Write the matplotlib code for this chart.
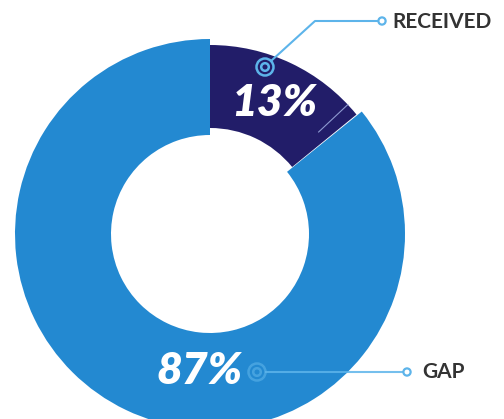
import numpy as np
import matplotlib
matplotlib.use("Agg")
import matplotlib.pyplot as plt
from matplotlib.patches import Wedge, Circle

labels = ["RECEIVED", "GAP"]
shares = [13, 87]          # percent, as printed on the chart
colors = ["#221d69", "#2389d1"]
line_color = "#5db4ea"

W, H = 504, 419

fig = plt.figure(figsize=(W / 100, H / 100), dpi=100)
ax = fig.add_axes([0, 0, 1, 1])
ax.set_xlim(0, W)
ax.set_ylim(0, H)
ax.set_aspect("equal")
ax.axis("off")

# centre of the donut, y measured upward
cx, cy = 210, H - 234


def clock_to_theta(deg):
    # clockwise from 12 o'clock -> matplotlib angle
    return 90 - deg


# the slices as drawn: received slice overshoots its 13% a little
recv_end = shares[0] / 100 * 360 + 4
gap_start = recv_end + 0.3

ax.add_patch(Wedge((cx, cy), 195, clock_to_theta(360), clock_to_theta(gap_start),
                   width=96, facecolor=colors[1], edgecolor="none"))
ax.add_patch(Wedge((cx, cy), 189, clock_to_theta(recv_end), clock_to_theta(0),
                   width=83, facecolor=colors[0], edgecolor="none"))

# thin light line inside the dark slice at the exact 13% mark
a = np.deg2rad(clock_to_theta(shares[0] / 100 * 360))
ax.plot([cx + 149 * np.cos(a), cx + 189 * np.cos(a)],
        [cy + 149 * np.sin(a), cy + 189 * np.sin(a)],
        color="#8e9ad0", lw=0.8)

# percentage labels
ax.text(274, H - 103, f"{shares[0]}%", color="white", fontsize=32,
        fontfamily="Lato", fontweight="heavy", fontstyle="italic",
        ha="center", va="center")
ax.text(200, H - 371, f"{shares[1]}%", color="white", fontsize=32,
        fontfamily="Lato", fontweight="heavy", fontstyle="italic",
        ha="center", va="center")


def marker(x, y, alpha=1.0):
    ax.add_patch(Circle((x, H - y), 8.5, facecolor="none", edgecolor=line_color,
                        lw=1.8, alpha=alpha))
    ax.add_patch(Circle((x, H - y), 3.8, facecolor="none", edgecolor=line_color,
                        lw=1.8, alpha=alpha))


def end_dot(x, y):
    ax.add_patch(Circle((x, H - y), 3.6, facecolor="white", edgecolor=line_color,
                        lw=1.6, zorder=5))


# RECEIVED callout
marker(265, 67)
ax.plot([271, 315, 379], [H - 61, H - 21, H - 21], color=line_color, lw=1.5)
end_dot(382, 21)
ax.text(392, H - 22, labels[0], color="#333333", fontsize=15,
        fontfamily="Lato", fontweight="bold", ha="left", va="center")

# GAP callout
marker(257, 372, alpha=0.6)
ax.plot([266, 404], [H - 372, H - 372], color=line_color, lw=1.5, alpha=0.85)
end_dot(407, 372)
ax.text(422, H - 372, labels[1], color="#333333", fontsize=15,
        fontfamily="Lato", fontweight="bold", ha="left", va="center")

fig.savefig("out.png", dpi=100)
